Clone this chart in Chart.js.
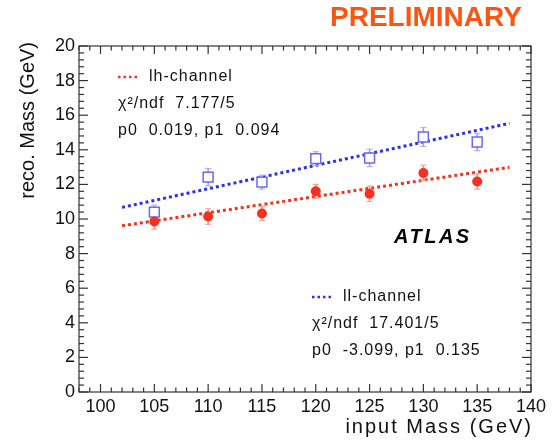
<!DOCTYPE html>
<html><head><meta charset="utf-8">
<script src="https://cdn.jsdelivr.net/npm/chart.js@4"></script>
<style>html,body{margin:0;padding:0;background:#fff}#wrap{width:560px;height:441px}</style>
</head><body><div id="wrap"><canvas id="c" width="560" height="441"></canvas></div>
<script>
// ---- data ----
const masses = [105, 110, 115, 120, 125, 130, 135];
const lhReco = [9.86, 10.14, 10.32, 11.6, 11.46, 12.66, 12.17];
const lhErr  = [0.45, 0.45, 0.4, 0.4, 0.45, 0.45, 0.45];
const llReco = [10.4, 12.42, 12.13, 13.49, 13.53, 14.74, 14.45];
const llErr  = [0.4, 0.5, 0.4, 0.4, 0.5, 0.55, 0.5];
const fitX   = [102, 138];
const lhFit  = [9.61, 12.99];
const llFit  = [10.67, 15.53];
const xTicks = [100, 105, 110, 115, 120, 125, 130, 135, 140];
const yTicks = [0, 2, 4, 6, 8, 10, 12, 14, 16, 18, 20];

const RED = '#f5301f', BLUE = '#2e2ef2', SQ = '#6a6aee', FONT = '"Liberation Sans", Arial, sans-serif';

function errSegments(xs, ys, es) {
  const out = [];
  xs.forEach((x, i) => { out.push({x, y: ys[i] - es[i]}, {x, y: ys[i] + es[i]}, {x, y: null}); });
  return out;
}
const pts = (xs, ys) => xs.map((x, i) => ({x, y: ys[i]}));

const deco = {
  id: 'deco',
  afterDraw(chart) {
    const {ctx, chartArea: a, scales: {x, y}} = chart;
    ctx.save();
    const line = (x1, y1, x2, y2) => { ctx.beginPath(); ctx.moveTo(x1, y1); ctx.lineTo(x2, y2); ctx.stroke(); };
    ctx.strokeStyle = '#333'; ctx.lineWidth = 1.2;
    ctx.strokeRect(a.left, a.top, a.right - a.left, a.bottom - a.top);
    for (let v = x.min; v <= x.max + 1e-6; v += 1) {
      const px = x.getPixelForValue(v), L = (Math.round(v) % 5 === 0) ? 8 : 4.5;
      line(px, a.bottom, px, a.bottom - L); line(px, a.top, px, a.top + L);
    }
    for (let i = 0; i <= 50; i++) {
      const py = y.getPixelForValue(i * 0.4), L = (i % 5 === 0) ? 9 : 5;
      line(a.left, py, a.left + L, py); line(a.right, py, a.right - L, py);
    }
    // axis titles
    ctx.fillStyle = '#111';
    ctx.font = '20px ' + FONT;
    ctx.textAlign = 'right'; ctx.textBaseline = 'alphabetic';
    ctx.letterSpacing = '2px';
    ctx.fillText('input Mass (GeV)', a.right + 2, 433);
    ctx.letterSpacing = '0px';
    ctx.save(); ctx.translate(34, a.top - 4); ctx.rotate(-Math.PI / 2);
    ctx.textAlign = 'right'; ctx.fillText('reco. Mass (GeV)', 0, 0); ctx.restore();
    // PRELIMINARY
    ctx.fillStyle = '#fa5512'; ctx.font = 'bold 28px ' + FONT;
    ctx.textAlign = 'left'; ctx.textBaseline = 'middle';
    ctx.fillText('PRELIMINARY', 330, 18);
    // ATLAS
    ctx.fillStyle = '#000'; ctx.font = 'bold italic 20px ' + FONT;
    ctx.letterSpacing = '2.5px';
    ctx.fillText('ATLAS', 394, 237);
    ctx.letterSpacing = '0px';
    // legends
    const legend = (x0, y0, col, name, chi, par) => {
      ctx.strokeStyle = col; ctx.lineWidth = 2.5; ctx.setLineDash([2.5, 3]);
      line(x0, y0, x0 + 22, y0); ctx.setLineDash([]);
      ctx.fillStyle = '#111'; ctx.font = '16px ' + FONT; ctx.textAlign = 'left'; ctx.textBaseline = 'middle';
      ctx.letterSpacing = '1px';
      ctx.fillText(name, x0 + 31, y0);
      ctx.fillText('\u03c7\u00b2/ndf  ' + chi, x0, y0 + 27);
      ctx.fillText(par, x0, y0 + 54);
      ctx.letterSpacing = '0px';
    };
    legend(118, 77, RED, 'lh-channel', '7.177/5', 'p0  0.019, p1  0.094');
    legend(312, 297, BLUE, 'll-channel', '17.401/5', 'p0  -3.099, p1  0.135');
    ctx.restore();
  }
};

// Chart.js draws dataset 0 on top, so markers come first.
new Chart(document.getElementById('c'), {
  type: 'scatter',
  data: {
    datasets: [
      {data: pts(masses, lhReco), pointStyle: 'circle', pointRadius: 5, backgroundColor: RED, borderColor: RED, borderWidth: 0},
      {data: pts(masses, llReco), pointStyle: 'rect', pointRadius: 7, backgroundColor: '#fff', borderColor: SQ, borderWidth: 1.5},
      {type: 'line', data: errSegments(masses, lhReco, lhErr), borderColor: '#f78a80', borderWidth: 1.5,
        pointStyle: 'line', pointRadius: 3, pointBorderColor: '#f9a59d', pointBorderWidth: 1.2, spanGaps: false, fill: false},
      {type: 'line', data: errSegments(masses, llReco, llErr), borderColor: '#9a9af2', borderWidth: 1.5,
        pointStyle: 'line', pointRadius: 3, pointBorderColor: '#b0b0f5', pointBorderWidth: 1.2, spanGaps: false, fill: false},
      {type: 'line', data: pts(fitX, lhFit), borderColor: RED, borderWidth: 3, borderDash: [3, 3], pointRadius: 0, fill: false},
      {type: 'line', data: pts(fitX, llFit), borderColor: BLUE, borderWidth: 3, borderDash: [3, 3], pointRadius: 0, fill: false}
    ]
  },
  options: {
    responsive: false, animation: false, devicePixelRatio: 1,
    layout: {padding: {top: 46, right: 29, left: 0, bottom: 0}},
    plugins: {legend: {display: false}, tooltip: {enabled: false}},
    scales: {
      x: {type: 'linear', min: 98, max: 140,
        afterBuildTicks: s => { s.ticks = xTicks.map(v => ({value: v})); },
        afterFit: s => { s.height = 49; },
        grid: {display: false, drawTicks: false}, border: {display: false},
        ticks: {font: {size: 18, family: FONT}, color: '#111', padding: 4, maxRotation: 0, autoSkip: false}},
      y: {type: 'linear', min: 0, max: 20,
        afterBuildTicks: s => { s.ticks = yTicks.map(v => ({value: v})); },
        afterFit: s => { s.width = 79; },
        grid: {display: false, drawTicks: false}, border: {display: false},
        ticks: {font: {size: 18, family: FONT}, color: '#111', padding: 4, autoSkip: false}}
    }
  },
  plugins: [deco]
});
</script></body></html>
